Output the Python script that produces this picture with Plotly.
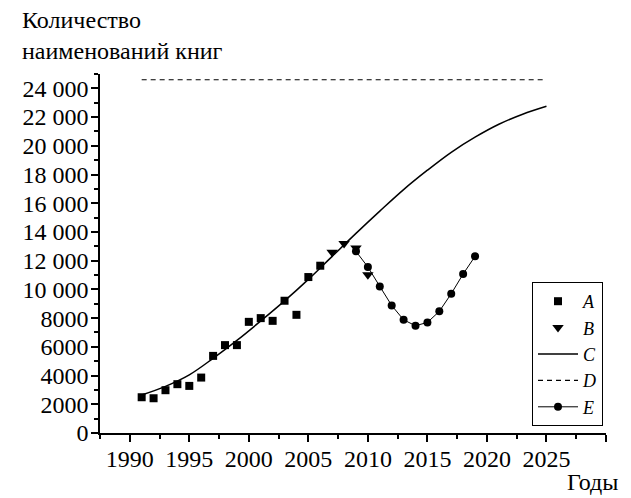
import plotly.graph_objects as go

# ---- data ----
years_a = [1991, 1992, 1993, 1994, 1995, 1996, 1997, 1998, 1999, 2000,
           2001, 2002, 2003, 2004, 2005, 2006]
vals_a = [2490, 2420, 2980, 3400, 3280, 3860, 5370, 6120, 6120, 7740,
          8000, 7810, 9210, 8230, 10860, 11650]

years_b = [2007, 2008, 2009, 2010]
vals_b = [12580, 13190, 12890, 11020]

years_c = [1991, 1993, 1995, 1997, 1999, 2001, 2003, 2005, 2007, 2009,
           2011, 2013, 2015, 2017, 2019, 2021, 2023, 2025]
vals_c = [2650, 3250, 4050, 5200, 6450, 7800, 9200, 10700, 12300, 13900,
          15450, 16950, 18300, 19550, 20600, 21500, 22200, 22750]

years_d = [1991, 2025]
vals_d = [24600, 24600]

years_e = [2009, 2010, 2011, 2012, 2013, 2014, 2015, 2016, 2017, 2018, 2019]
vals_e = [12650, 11560, 10210, 8880, 7880, 7470, 7700, 8470, 9700, 11070, 12300]

x_tickvals = [1990, 1995, 2000, 2005, 2010, 2015, 2020, 2025, 2030]
x_ticktext = ["1990", "1995", "2000", "2005", "2010", "2015", "2020", "2025", ""]
y_tickvals = [0, 2000, 4000, 6000, 8000, 10000, 12000, 14000, 16000, 18000,
              20000, 22000, 24000]
y_ticktext = ["0", "2000", "4000", "6000", "8000", "10 000", "12 000", "14 000",
              "16 000", "18 000", "20 000", "22 000", "24 000"]

FONT = "'Times New Roman', 'Liberation Serif', Times, 'DejaVu Serif', serif"
FS = 24

fig = go.Figure()
fig.add_trace(go.Scatter(x=years_c, y=vals_c, mode="lines", name="<i>C</i>",
                         line=dict(color="black", width=1.5, shape="spline"),
                         legendrank=3))
fig.add_trace(go.Scatter(x=years_d, y=vals_d, mode="lines", name="<i>D</i>",
                         line=dict(color="black", width=1.2, dash="5px,4px"),
                         legendrank=4))
fig.add_trace(go.Scatter(x=years_e, y=vals_e, mode="lines+markers", name="<i>E</i>",
                         line=dict(color="black", width=1),
                         marker=dict(symbol="circle", size=8, color="black"),
                         legendrank=5))
fig.add_trace(go.Scatter(x=years_a, y=vals_a, mode="markers", name="<i>A</i>",
                         marker=dict(symbol="square", size=8, color="black"),
                         legendrank=1))
fig.add_trace(go.Scatter(x=years_b, y=vals_b, mode="markers", name="<i>B</i>",
                         marker=dict(symbol="triangle-down", size=10, color="black"),
                         legendrank=2))

# page has an 8px body margin, so the figure is 8px smaller than the window
W, H = 623, 490
L, R, T, B = 92, 25, 66, 65
pw, ph = W - L - R, H - T - B

fig.update_layout(
    width=W, height=H,
    margin=dict(l=L, r=R, t=T, b=B),
    paper_bgcolor="white", plot_bgcolor="white",
    font=dict(family=FONT, size=FS, color="black"),
    showlegend=True,
    legend=dict(x=(595 - L) / pw, y=(H - B - 274) / ph, xanchor="right", yanchor="top",
                bordercolor="black", borderwidth=1, bgcolor="white",
                font=dict(family=FONT, size=18), tracegroupgap=0,
                itemwidth=40),
    xaxis=dict(range=[1987.5, 2030], tickmode="array", tickvals=x_tickvals,
               ticktext=x_ticktext, ticks="outside", ticklen=7, tickwidth=1.5,
               tickcolor="black", showline=True, linecolor="black", linewidth=1.5,
               showgrid=False, zeroline=False, ticklabelstandoff=-4,
               minor=dict(dtick=2.5, tick0=1987.5, ticks="outside", ticklen=4,
                          tickwidth=1.5, tickcolor="black", showgrid=False),
               tickfont=dict(family=FONT, size=FS)),
    yaxis=dict(range=[0, 25000], tickmode="array", tickvals=y_tickvals,
               ticktext=y_ticktext, ticks="outside", ticklen=7, tickwidth=1.5,
               tickcolor="black", showline=True, linecolor="black", linewidth=1.5,
               showgrid=False, zeroline=False, ticklabelstandoff=-2,
               minor=dict(dtick=1000, tick0=0, ticks="outside", ticklen=4,
                          tickwidth=1.5, tickcolor="black", showgrid=False),
               tickfont=dict(family=FONT, size=FS)),
)

# text positions in figure pixels
labels = [("Количество", 12, 12, "left"),
          ("наименований книг", 12, 43, "left"),
          ("Годы", 612, 474, "right")]
anns = []
for text, px, py, anchor in labels:
    anns.append(dict(text=text, xref="paper", yref="paper",
                     x=(px - L) / pw, y=(H - B - py) / ph,
                     xanchor=anchor, yanchor="middle", showarrow=False,
                     font=dict(family=FONT, size=FS, color="black")))
fig.update_layout(annotations=anns)

fig.write_html("out.html")
